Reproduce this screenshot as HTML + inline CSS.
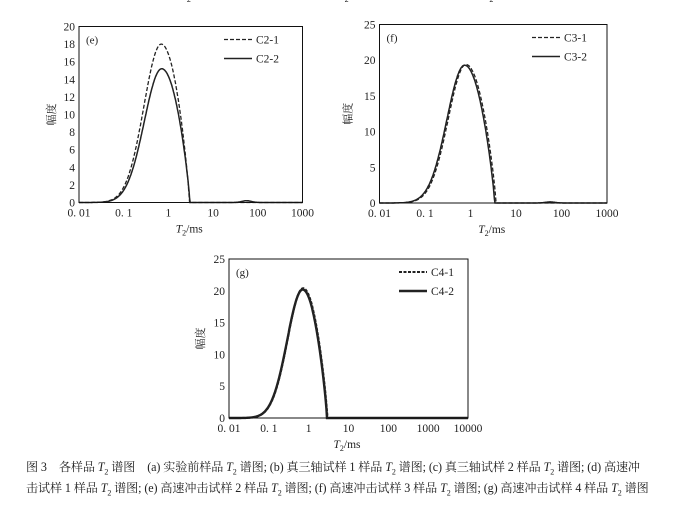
<!DOCTYPE html>
<html><head><meta charset="utf-8"><style>
body{margin:0;background:#fff;width:673px;height:509px;overflow:hidden}
svg{position:absolute;left:0;top:0}
text{font-family:"Liberation Serif","Noto Serif CJK SC",serif;fill:#222}
.cap{position:absolute;left:26px;font-family:"Liberation Serif","Noto Serif CJK SC",serif;font-size:12.1px;color:#222;white-space:nowrap;letter-spacing:-0.1px}
</style></head><body>
<svg id="s" width="673" height="509" xmlns="http://www.w3.org/2000/svg"></svg>
<div class="cap" style="top:458px">图 3　各样品 <i>T</i><sub style="font-size:8px">2</sub> 谱图　(a) 实验前样品 <i>T</i><sub style="font-size:8px">2</sub> 谱图; (b) 真三轴试样 1 样品 <i>T</i><sub style="font-size:8px">2</sub> 谱图; (c) 真三轴试样 2 样品 <i>T</i><sub style="font-size:8px">2</sub> 谱图; (d) 高速冲</div>
<div class="cap" style="top:479px">击试样 1 样品 <i>T</i><sub style="font-size:8px">2</sub> 谱图; (e) 高速冲击试样 2 样品 <i>T</i><sub style="font-size:8px">2</sub> 谱图; (f) 高速冲击试样 3 样品 <i>T</i><sub style="font-size:8px">2</sub> 谱图; (g) 高速冲击试样 4 样品 <i>T</i><sub style="font-size:8px">2</sub> 谱图</div>
<script>
var s=document.getElementById('s'),h='';
function curve(u,A,up,ue,sg){
  if(u<=up){var v=A*Math.exp(-Math.pow((u-up)/sg,2));return v;}
  if(u>=ue)return 0;
  return A*Math.pow(Math.cos((u-up)/(ue-up)*Math.PI/2),0.8);
}
function panel(o){
  var L=o.x0,R=o.x1,T=o.y0,B=o.y1,nd=o.dec;
  var px=(R-L)/nd;
  h+='<text x="'+(o.x0+(R-L)/2-10)+'" y="-1" font-size="11"><tspan font-style="italic">T</tspan><tspan font-size="8" dy="3">2</tspan><tspan dy="-3">/ms</tspan></text>';
  o.series.forEach(function(c){
    var d='';
    for(var i=0;i<=400;i++){
      var u=-2+nd*i/400;
      var v=curve(u,c.A,c.up,c.ue,c.sg);
      if(c.bump){v+=c.bump*Math.exp(-Math.pow((u-1.75)/0.15,2));}
      var X=L+(u+2)*px,Y=B-v/o.ymax*(B-T);
      d+=(i?'L':'M')+X.toFixed(1)+' '+Y.toFixed(1);
    }
    h+='<path d="'+d+'" fill="none" stroke="#222" stroke-width="'+c.w+'"'+(c.dash?' stroke-dasharray="'+c.dash+'"':'')+'/>';
  });
  h+='<rect x="'+L+'" y="'+T+'" width="'+(R-L)+'" height="'+(B-T)+'" fill="none" stroke="#111" stroke-width="1"/>';
  for(var k=0;k<=o.ymax;k+=o.ystep){
    var Y=B-k/o.ymax*(B-T);
    h+='<text x="'+(L-4)+'" y="'+(Y+4)+'" font-size="11.5" text-anchor="end">'+k+'</text>';
  }
  var labs=['0. 01','0. 1','1','10','100','1000','10000'];
  for(var j=0;j<=nd;j++){
    h+='<text x="'+(L+j*px)+'" y="'+(B+14)+'" font-size="11.5" text-anchor="middle">'+labs[j]+'</text>';
  }
  var cx=L+(R-L)/2;
  h+='<text x="'+(cx-15)+'" y="'+(B+30)+'" font-size="11.5"><tspan font-style="italic">T</tspan><tspan font-size="8" dy="3">2</tspan><tspan dy="-3">/ms</tspan></text>';
  var yx=L-o.yl;
  h+='<text x="'+yx+'" y="'+((T+B)/2)+'" font-size="11" transform="rotate(-90 '+yx+' '+((T+B)/2)+')" text-anchor="middle" dy="4">幅度</text>';
  h+='<text x="'+(L+7)+'" y="'+(T+17)+'" font-size="11">'+o.tag+'</text>';
  var lx=o.lx,ly=T+17;
  o.series.forEach(function(c,i){
    var yy=ly+i*19-4;
    h+='<line x1="'+lx+'" y1="'+yy+'" x2="'+(lx+28)+'" y2="'+yy+'" stroke="#222" stroke-width="'+c.w+'"'+(c.dash?' stroke-dasharray="'+c.dash+'"':'')+'/>';
    h+='<text x="'+(lx+32)+'" y="'+(yy+4)+'" font-size="11.5">'+c.name+'</text>';
  });
}
panel({x0:79,x1:302.5,y0:26.5,y1:202.5,dec:5,ymax:20,ystep:2,tag:'(e)',lx:224,yl:28,
 series:[{name:'C2-1',A:18,up:-0.16,ue:0.47,sg:0.55,w:1.3,dash:'4,2'},{name:'C2-2',A:15.2,up:-0.15,ue:0.48,sg:0.55,w:1.5,bump:0.2}]});
panel({x0:379.5,x1:607,y0:24.5,y1:203,dec:5,ymax:25,ystep:5,tag:'(f)',lx:532,yl:32,
 series:[{name:'C3-1',A:19.4,up:-0.1,ue:0.56,sg:0.55,w:1.3,dash:'4,2'},{name:'C3-2',A:19.3,up:-0.13,ue:0.53,sg:0.55,w:1.5,bump:0.15}]});
panel({x0:229,x1:468,y0:259,y1:418,dec:6,ymax:25,ystep:5,tag:'(g)',lx:399,yl:29,
 series:[{name:'C4-1',A:20.4,up:-0.14,ue:0.47,sg:0.55,w:2,dash:'3,1.5'},{name:'C4-2',A:20.2,up:-0.15,ue:0.46,sg:0.55,w:2.4}]});
s.innerHTML=h;
</script>
</body></html>
